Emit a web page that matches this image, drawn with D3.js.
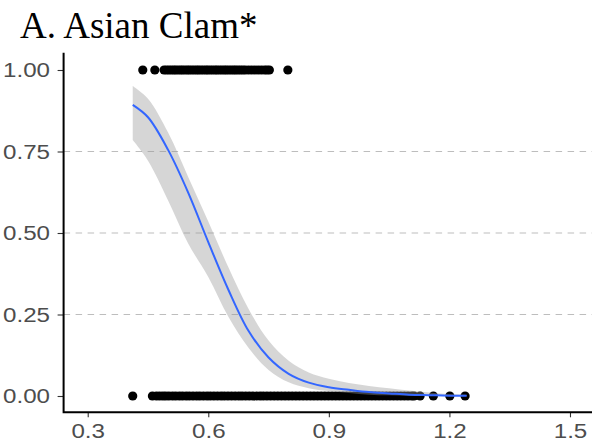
<!DOCTYPE html>
<html>
<head>
<meta charset="utf-8">
<script src="https://cdn.jsdelivr.net/npm/d3@7"></script>
<style>
  html, body { margin: 0; padding: 0; background: #fff; }
  svg { display: block; }
</style>
</head>
<body>
<svg id="chart" width="592" height="447"></svg>
<script>
// Observed presence (1) / absence (0) by predictor value
const presentX = [0.437, 0.467, 0.490, 0.496, 0.502, 0.508, 0.514, 0.519, 0.525, 0.531, 0.536,
  0.542, 0.548, 0.553, 0.559, 0.565, 0.571, 0.576, 0.582, 0.588, 0.594, 0.599, 0.605, 0.611,
  0.617, 0.622, 0.628, 0.634, 0.640, 0.645, 0.651, 0.657, 0.663, 0.668, 0.674, 0.680, 0.686,
  0.692, 0.700, 0.708, 0.716, 0.724, 0.732, 0.740, 0.746, 0.752, 0.798];
const absentX = [0.412, 0.461, 0.471, 0.479, 0.487, 0.494, 0.502, 0.511, 0.519, 0.528, 0.536,
  0.545, 0.553, 0.562, 0.571, 0.579, 0.588, 0.597, 0.605, 0.614, 0.623, 0.632, 0.640, 0.649,
  0.658, 0.667, 0.676, 0.684, 0.693, 0.702, 0.711, 0.720, 0.729, 0.737, 0.746, 0.755, 0.764,
  0.773, 0.782, 0.791, 0.800, 0.809, 0.818, 0.827, 0.836, 0.845, 0.854, 0.863, 0.872, 0.881,
  0.890, 0.899, 0.908, 0.917, 0.926, 0.935, 0.944, 0.953, 0.962, 0.971, 0.980, 0.989, 0.998,
  1.007, 1.016, 1.025, 1.034, 1.043, 1.052, 1.061, 1.070, 1.079, 1.088, 1.097, 1.106, 1.112,
  1.127, 1.160, 1.201, 1.239];

// Fitted probability and confidence band
const fitX     = [0.412, 0.45, 0.50, 0.55, 0.60, 0.65, 0.70, 0.75, 0.80, 0.85, 0.90, 0.95, 1.00, 1.05, 1.10, 1.15, 1.20, 1.243];
const fitY     = [0.893, 0.855, 0.755, 0.624, 0.472, 0.326, 0.200, 0.118, 0.068, 0.041, 0.027, 0.019, 0.012, 0.008, 0.004, 0.0025, 0.001, 0.0005];
const fitUpper = [0.951, 0.912, 0.808, 0.672, 0.535, 0.395, 0.268, 0.170, 0.108, 0.072, 0.053, 0.040, 0.031, 0.024, 0.017, 0.011, 0.006, 0.004];
const fitLower = [0.785, 0.722, 0.600, 0.468, 0.365, 0.243, 0.148, 0.080, 0.042, 0.024, 0.015, 0.009, 0.004, 0.002, 0.001, 0.0005, 0.0, 0.0];

// Axis ticks and reference lines
const xTicks = [0.3, 0.6, 0.9, 1.2, 1.5];
const yTicks = [0, 0.25, 0.5, 0.75, 1];
const yTickLabels = ["0.00", "0.25", "0.50", "0.75", "1.00"];
const gridLevels = [0.25, 0.5, 0.75];
const title = "A. Asian Clam*";

const svg = d3.select("#chart");
const W = 592, H = 447;
const plotLeft = 63.6, plotRight = 594.1, plotTop = 53.7, plotBottom = 412.3;

const x = d3.scaleLinear().domain([0.24, 1.56]).range([plotLeft, plotRight]);
const y = d3.scaleLinear().domain([-0.05, 1.05]).range([plotBottom, plotTop]);

// horizontal dashed reference lines
svg.append("g").selectAll("line").data(gridLevels).join("line")
  .attr("x1", plotLeft).attr("x2", W)
  .attr("y1", d => y(d)).attr("y2", d => y(d))
  .attr("stroke", "#bdbdbd").attr("stroke-width", 1.1)
  .attr("stroke-dasharray", "6.5,5.5");

// observed points
const pts = presentX.map(v => ({ x: v, y: 1 })).concat(absentX.map(v => ({ x: v, y: 0 })));
svg.append("g").selectAll("circle").data(pts).join("circle")
  .attr("cx", d => x(d.x)).attr("cy", d => y(d.y))
  .attr("r", 4.6).attr("fill", "#000");

// confidence ribbon and fitted curve
const fit = fitX.map((v, i) => ({ x: v, y: fitY[i], lo: fitLower[i], hi: fitUpper[i] }));
const smooth = d3.curveCatmullRom.alpha(0.5);
svg.append("path").datum(fit)
  .attr("d", d3.area().x(d => x(d.x)).y0(d => y(d.lo)).y1(d => y(d.hi)).curve(smooth))
  .attr("fill", "#999999").attr("fill-opacity", 0.4);
svg.append("path").datum(fit)
  .attr("d", d3.line().x(d => x(d.x)).y(d => y(d.y)).curve(smooth))
  .attr("fill", "none").attr("stroke", "#3366FF").attr("stroke-width", 2);

// axes
const labelScale = 1.15;
const xAxis = svg.append("g").attr("transform", `translate(0,${plotBottom})`)
  .call(d3.axisBottom(x).tickValues(xTicks).tickFormat(d3.format(".1f"))
    .tickSize(5).tickSizeOuter(0).tickPadding(6));
const yAxis = svg.append("g").attr("transform", `translate(${plotLeft},0)`)
  .call(d3.axisLeft(y).tickValues(yTicks).tickFormat((d, i) => yTickLabels[i])
    .tickSize(6).tickSizeOuter(0).tickPadding(7));

[xAxis, yAxis].forEach(g => {
  g.select(".domain").remove();
  g.selectAll(".tick line").attr("stroke", "#333").attr("stroke-width", 1.1);
  g.selectAll(".tick text")
    .attr("fill", "#4d4d4d")
    .style("font-family", "'Liberation Sans', Arial, sans-serif")
    .style("font-size", "21px");
});
xAxis.selectAll(".tick text").attr("transform", `scale(${labelScale},1)`);
yAxis.selectAll(".tick text")
  .attr("x", -13.6 / labelScale)
  .attr("transform", `scale(${labelScale},1)`);

// axis lines
svg.append("path")
  .attr("d", `M${plotLeft},${plotTop}V${plotBottom}H${W}`)
  .attr("fill", "none").attr("stroke", "#000").attr("stroke-width", 2)
  .attr("stroke-linejoin", "miter").attr("stroke-linecap", "square");

// title
svg.append("text")
  .attr("x", 20).attr("y", 38)
  .style("font-family", "'Liberation Serif', 'Times New Roman', serif")
  .style("font-size", "37px")
  .attr("fill", "#000")
  .text(title);
</script>
</body>
</html>
